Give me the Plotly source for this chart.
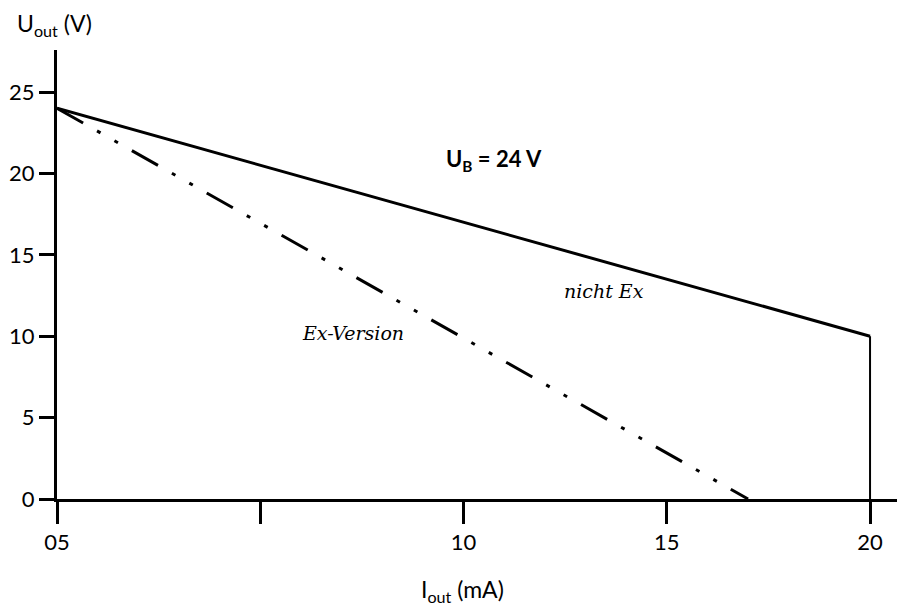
import plotly.graph_objects as go

# Data
nicht_ex_x = [0, 20]
nicht_ex_y = [24, 10]
ex_x = [0, 17]
ex_y = [24, 0]
drop_x = [20, 20]
drop_y = [0, 10]

x_tickvals = [0, 5, 10, 15, 20]
x_ticktext = ["05", "", "10", "15", "20"]
y_tickvals = [0, 5, 10, 15, 20, 25]
y_ticktext = ["0", "5", "10", "15", "20", "25"]

TICK_FONT = dict(family="Lato, 'Open Sans', sans-serif", size=22, color="black")
TITLE_FONT = dict(family="Lato, 'Open Sans', sans-serif", size=23, color="black")
SERIF_IT = dict(family="'DejaVu Serif', 'Liberation Serif', serif", size=19, color="black")

fig = go.Figure()
fig.add_trace(go.Scatter(x=nicht_ex_x, y=nicht_ex_y, mode="lines",
                         line=dict(color="black", width=3), showlegend=False, hoverinfo="skip"))
fig.add_trace(go.Scatter(x=ex_x, y=ex_y, mode="lines",
                         line=dict(color="black", width=3, dash="30px,16px,4px,16px,4px,16px"),
                         showlegend=False, hoverinfo="skip"))
fig.add_trace(go.Scatter(x=drop_x, y=drop_y, mode="lines",
                         line=dict(color="black", width=2), showlegend=False, hoverinfo="skip"))

fig.update_layout(
    width=905, height=613,
    margin=dict(l=49, r=8, t=42, b=122),
    plot_bgcolor="white", paper_bgcolor="white",
    xaxis=dict(range=[0, 20.86], tickvals=x_tickvals, ticktext=x_ticktext,
               showgrid=False, zeroline=False, showline=True, linecolor="black", linewidth=3,
               ticks="outside", ticklen=22, tickwidth=3, tickcolor="black",
               tickfont=TICK_FONT, fixedrange=True, automargin=False),
    yaxis=dict(range=[0, 27.58], tickvals=y_tickvals, ticktext=y_ticktext,
               showgrid=False, zeroline=False, showline=True, linecolor="black", linewidth=3,
               ticks="outside", ticklen=15, tickwidth=3, tickcolor="black",
               tickfont=TICK_FONT, fixedrange=True, automargin=False),
    annotations=[
        dict(text="U<sub>out</sub> (V)", xref="paper", yref="paper", x=-0.0495, y=1.056,
             xanchor="left", yanchor="middle", showarrow=False, font=TITLE_FONT),
        dict(text="I<sub>out</sub> (mA)", xref="paper", yref="paper", x=0.478, y=-0.203,
             xanchor="center", yanchor="middle", showarrow=False, font=TITLE_FONT),
        dict(text="<b>U<sub>B</sub> = 24 V</b>", x=10.75, y=20.8, xref="x", yref="y",
             xanchor="center", yanchor="middle", showarrow=False,
             font=dict(family="Lato, sans-serif", size=22, color="black")),
        dict(text="<i>nicht Ex</i>", x=13.46, y=12.78, xref="x", yref="y",
             xanchor="center", yanchor="middle", showarrow=False, font=SERIF_IT),
        dict(text="<i>Ex-Version</i>", x=7.28, y=10.2, xref="x", yref="y",
             xanchor="center", yanchor="middle", showarrow=False, font=SERIF_IT),
    ],
)

fig.write_html("out.html")
